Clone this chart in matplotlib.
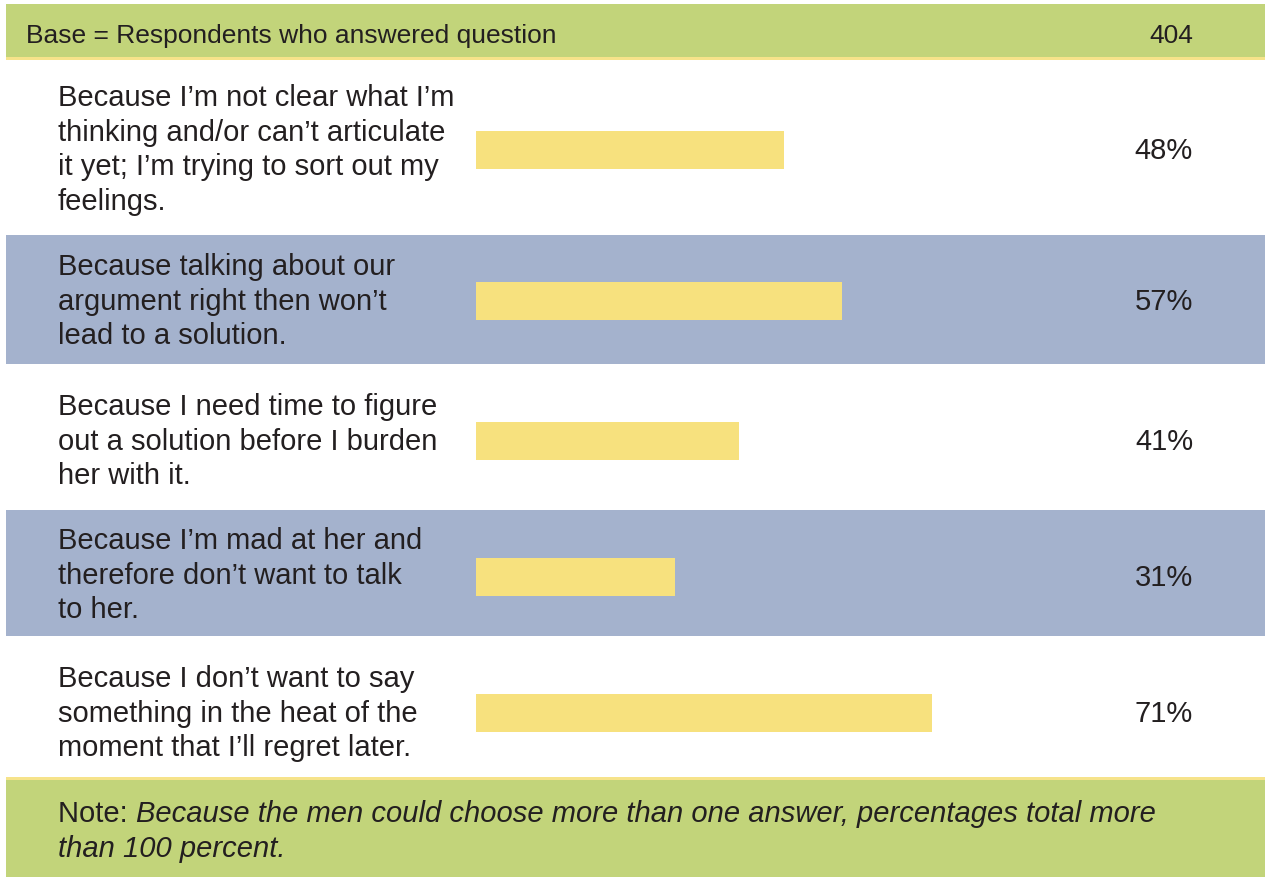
import matplotlib
matplotlib.use("Agg")
import matplotlib.pyplot as plt
from matplotlib.patches import Rectangle
from matplotlib.font_manager import FontProperties, findfont

# Survey data
reasons = [
    ["Because I\u2019m not clear what I\u2019m", "thinking and/or can\u2019t articulate",
     "it yet; I\u2019m trying to sort out my", "feelings."],
    ["Because talking about our", "argument right then won\u2019t", "lead to a solution."],
    ["Because I need time to figure", "out a solution before I burden", "her with it."],
    ["Because I\u2019m mad at her and", "therefore don\u2019t want to talk", "to her."],
    ["Because I don\u2019t want to say", "something in the heat of the",
     "moment that I\u2019ll regret later."],
]
percents = [48, 57, 41, 31, 71]
base_label = "Base = Respondents who answered question"
base_n = 404
note_prefix = "Note: "
note_lines = ["Because the men could choose more than one answer, percentages total more",
              "than 100 percent."]

W, H = 1266, 878
GREEN = "#C2D47A"
BLUE = "#A4B2CD"
BAR = "#F7E17E"
RULE = "#F6E38A"
TEXT = "#231F20"

regular_path = findfont(FontProperties(family="Liberation Sans"))
italic_path = findfont(FontProperties(family="Liberation Sans", style="italic"))
FP = FontProperties(fname=regular_path, size=21)
FP_HEAD = FontProperties(fname=regular_path, size=19)
FPI = FontProperties(fname=italic_path, size=21)

fig = plt.figure(figsize=(W / 100, H / 100), dpi=100)
fig.patch.set_facecolor("white")

# Background axes in pixel units
bg = fig.add_axes([0, 0, 1, 1])
bg.set_xlim(0, W)
bg.set_ylim(H, 0)
bg.axis("off")

left, right = 6, 1265
# header band
bg.add_patch(Rectangle((left, 5), right - left, 53, color=GREEN, lw=0))
bg.add_patch(Rectangle((left, 58), right - left, 3, color=RULE, lw=0))
# row bands (top, bottom, colour)
rows = [(61, 236, "white"), (236, 365, BLUE), (365, 511, "white"),
        (511, 637, BLUE), (637, 778, "white")]
for top, bot, col in rows:
    bg.add_patch(Rectangle((left, top), right - left, bot - top, color=col, lw=0))
# footer band
bg.add_patch(Rectangle((left, 778), right - left, 3, color=RULE, lw=0))
bg.add_patch(Rectangle((left, 781), right - left, H - 781, color=GREEN, lw=0))

bg.text(26, 43, base_label, fontproperties=FP_HEAD, color=TEXT, va="baseline", ha="left")
bg.text(1193, 43, str(base_n), fontproperties=FP_HEAD, color=TEXT, va="baseline", ha="right")

line_gap = 34.7
first_baseline = [106, 275, 415, 549, 687]
bar_centers = [151, 302, 442, 578, 714]
for lines, y0, yc, p in zip(reasons, first_baseline, bar_centers, percents):
    for i, ln in enumerate(lines):
        bg.text(58, y0 + i * line_gap, ln, fontproperties=FP, color=TEXT,
                va="baseline", ha="left")
    bg.text(1193, yc + 8, f"{p}%", fontproperties=FP, color=TEXT,
            va="baseline", ha="right")

# note in footer
t = bg.text(58, 822, note_prefix, fontproperties=FP, color=TEXT, va="baseline", ha="left")
fig.canvas.draw()
bb = t.get_window_extent()
x_it = bb.x1 / fig.dpi * 100
bg.text(x_it, 822, note_lines[0], fontproperties=FPI, color=TEXT, va="baseline", ha="left")
bg.text(58, 857, note_lines[1], fontproperties=FPI, color=TEXT, va="baseline", ha="left")

# Bar axes: 0-100% scale starting at the bar origin
x0, span = 476, 642
bax = fig.add_axes([x0 / W, 0, span / W, 1])
bax.set_xlim(0, 100)
bax.set_ylim(H, 0)
bax.axis("off")
bax.patch.set_alpha(0)
bax.barh(bar_centers, percents, height=38, left=0, color=BAR, lw=0)

fig.savefig("out.png", dpi=100, facecolor="white")
